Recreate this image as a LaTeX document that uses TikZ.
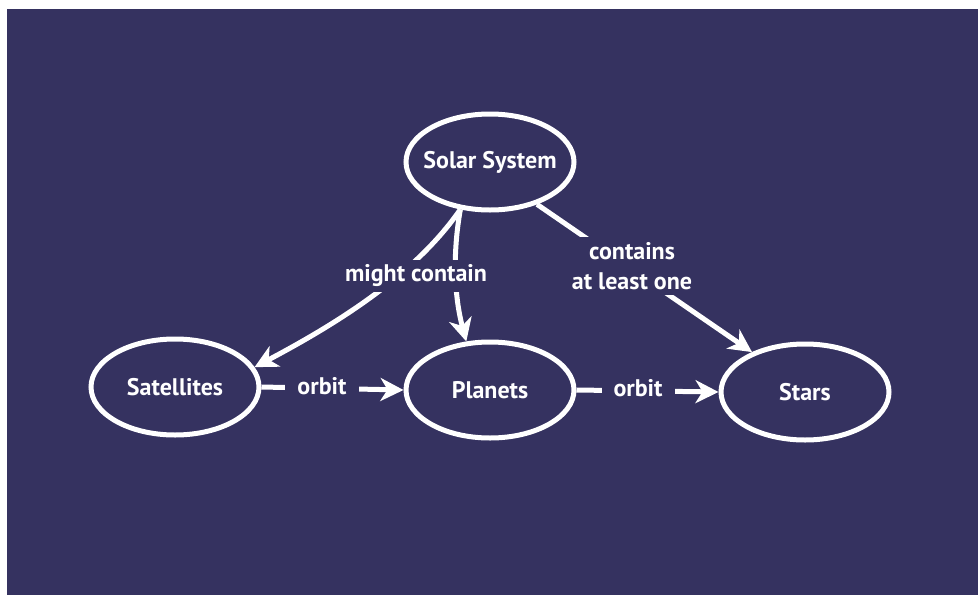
\documentclass[tikz,border=0pt]{standalone}
\usepackage{fontspec}
\setmainfont{PT Sans}
\usetikzlibrary{shapes.geometric,arrows.meta}
\definecolor{bgc}{RGB}{53,50,96}
\begin{document}
\begin{tikzpicture}[x=1pt,y=-1pt,
  ell/.style={draw=white,line width=5pt,ellipse,minimum width=168pt,minimum height=96pt,inner sep=0pt,text=white,font=\fontsize{24}{28}\selectfont\bfseries},
  conn/.style={draw=white,line width=5pt,-{Stealth[length=23pt,width=23pt,inset=7pt]}},
  lab/.style={fill=bgc,text=white,inner xsep=12pt,inner ysep=5pt,align=center,font=\fontsize{24}{30}\selectfont\bfseries}]
\useasboundingbox (0,0) rectangle (978,595);
\fill[white] (0,0) rectangle (978,595);
\fill[bgc] (7,9) rectangle (978,595);
\node[ell] (ss) at (490,162) {\makebox[0pt]{Solar System}};
\node[ell] (sat) at (175,387) {\makebox[0pt]{Satellites}};
\node[ell] (pl) at (490,390) {\makebox[0pt]{Planets}};
\node[ell] (st) at (805,392) {\makebox[0pt]{Stars}};
\draw[conn] (ss.238) .. controls +(-45,65) and +(85,-45) .. (sat.14);
\draw[conn] (ss.238) .. controls +(-8,45) and +(-12,-45) .. (pl.116);
\draw[conn] (ss.318) -- (st.143);
\draw[conn] (sat.east) -- (pl.west);
\draw[conn] (pl.east) -- (st.west);
\node[lab] (l1) at (416,276) {might contain};
\node[lab] (l2) at (632,266) {contains\\at least one};
\node[lab] (l3) at (322,386) {orbit};
\node[lab] (l4) at (638,388) {orbit};
\end{tikzpicture}
\end{document}
